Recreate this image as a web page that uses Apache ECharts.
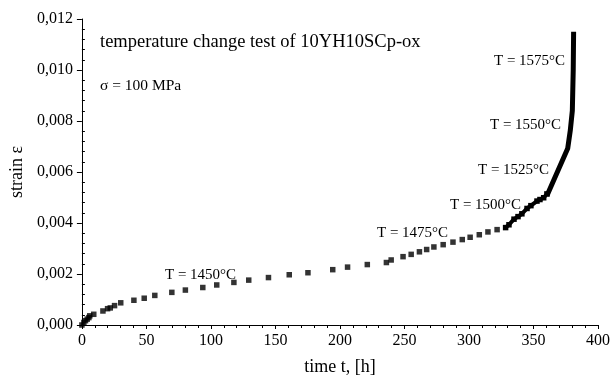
<!DOCTYPE html>
<html><head><meta charset="utf-8">
<script src="https://cdn.jsdelivr.net/npm/echarts@6/dist/echarts.min.js"></script>
<style>html,body{margin:0;padding:0;background:#fff}#c{width:613px;height:381px}</style>
</head><body><div id="c"></div>
<script>
// creep data (squares)
var timeH = [0,1.5,2.8,4.1,5.4,6.1,9.2,16.3,19.9,22,25.3,30.1,40.3,48.3,56.5,69.7,80.2,93.7,104.5,117.8,129.3,144.6,160.7,175.2,194.4,205.9,221.2,236,239.7,248.9,255.2,261.6,267.2,272.8,280,287.6,294.8,300.9,308,314.7,321.8];
var strain = [0,0.0001,0.00017,0.00023,0.00029,0.00036,0.00042,0.00055,0.00064,0.00067,0.00076,0.00087,0.00097,0.00105,0.00116,0.00128,0.00137,0.00147,0.00157,0.00167,0.00176,0.00186,0.00197,0.00205,0.00217,0.00227,0.00237,0.00245,0.00255,0.00268,0.00277,0.00287,0.00296,0.00306,0.00315,0.00325,0.00335,0.00344,0.00354,0.00365,0.00374];
// dense part at 1500 °C (squares touching each other)
var timeDense = [328.4,331,334.9,338,341,345,348,352.7,355,357.9,360.4];
var strainDense = [0.00382,0.00393,0.00415,0.00425,0.00436,0.00457,0.00468,0.00486,0.00492,0.00499,0.00514];
// final fast part (thick line)
var timeEnd = [360.4,376.5,378.5,380.1,380.8,381.1];
var strainEnd = [0.00507,0.00692,0.00762,0.0084,0.0100,0.0115];
var xTicks = [0,50,100,150,200,250,300,350,400];
var yTicks = [0,0.002,0.004,0.006,0.008,0.010,0.012];
var labels = ['T = 1450°C','T = 1475°C','T = 1500°C','T = 1525°C','T = 1550°C','T = 1575°C'];
var titleText = 'temperature change test of 10YH10SCp-ox';
var stressText = 'σ = 100 MPa';

var FONT = '"Liberation Serif","Times New Roman",serif';
var chart = echarts.init(document.getElementById('c'));
function pairs(a,b){return a.map(function(v,i){return [v,b[i]];});}
function fmtY(v){return v.toFixed(3).replace('.',',');}
var labelPos = [[165,275],[377,233],[450,205],[478,170],[490,125],[494,61]];
var graphics = labels.map(function(t,i){
  return {type:'text',left:labelPos[i][0],top:labelPos[i][1]-7,style:{text:t,font:'15px '+FONT,fill:'#000'}};
});
graphics.push({type:'text',left:100,top:33,style:{text:titleText,font:'18.5px '+FONT,fill:'#000'}});
graphics.push({type:'text',left:100,top:78,style:{text:stressText,font:'15.5px '+FONT,fill:'#000'}});

var xBase = {type:'value',min:0,max:400,interval:50,gridIndex:0};
var yBase = {type:'value',min:0,max:0.012,interval:0.002,gridIndex:0};
chart.setOption({
  animation:false,
  backgroundColor:'#fff',
  grid:{left:78,right:13,top:19,bottom:48},
  xAxis:[
    Object.assign({},xBase,{
      name:'time t, [h]',nameLocation:'middle',nameGap:33,
      nameTextStyle:{fontFamily:FONT,fontSize:18,color:'#000'},
      axisLine:{lineStyle:{color:'#000',width:1}},
      axisTick:{show:true,length:4,lineStyle:{color:'#000'}},
      axisLabel:{fontFamily:FONT,fontSize:16,color:'#000',margin:8,
        formatter:function(v){return xTicks.indexOf(v)>=0?String(v):'';}},
      splitLine:{show:false}
    }),
    Object.assign({},xBase,{
      axisLine:{show:false},axisLabel:{show:false},
      axisTick:{show:false,inside:true},
      minorTick:{show:true,splitNumber:5,length:3,lineStyle:{color:'#000'}},
      splitLine:{show:false}
    })
  ],
  yAxis:[
    Object.assign({},yBase,{
      name:'strain ε',nameLocation:'middle',nameGap:52,
      nameTextStyle:{fontFamily:FONT,fontSize:18,color:'#000'},
      axisLine:{show:true,lineStyle:{color:'#000',width:1}},
      axisTick:{show:true,length:5,lineStyle:{color:'#000'}},
      axisLabel:{fontFamily:FONT,fontSize:16,color:'#000',margin:9,
        formatter:function(v){return fmtY(v);}},
      splitLine:{show:false}
    }),
    Object.assign({},yBase,{
      position:'left',
      axisLine:{show:false},axisLabel:{show:false},
      axisTick:{show:false,inside:true},
      minorTick:{show:true,splitNumber:5,length:3,lineStyle:{color:'#000'}},
      splitLine:{show:false}
    })
  ],
  series:[
    {type:'scatter',xAxisIndex:0,yAxisIndex:0,data:pairs(timeH,strain),
     symbol:'rect',symbolSize:5.5,itemStyle:{color:'#000'},clip:false},
    {type:'line',xAxisIndex:0,yAxisIndex:0,data:pairs(timeDense,strainDense),
     symbol:'rect',symbolSize:5.5,showSymbol:true,itemStyle:{color:'#000'},
     lineStyle:{color:'#000',width:4},clip:false},
    {type:'line',xAxisIndex:0,yAxisIndex:0,data:pairs(timeEnd,strainEnd),
     showSymbol:false,symbol:'none',lineStyle:{color:'#000',width:5,join:'round'},clip:false}
  ],
  graphic:graphics
});
</script></body></html>
